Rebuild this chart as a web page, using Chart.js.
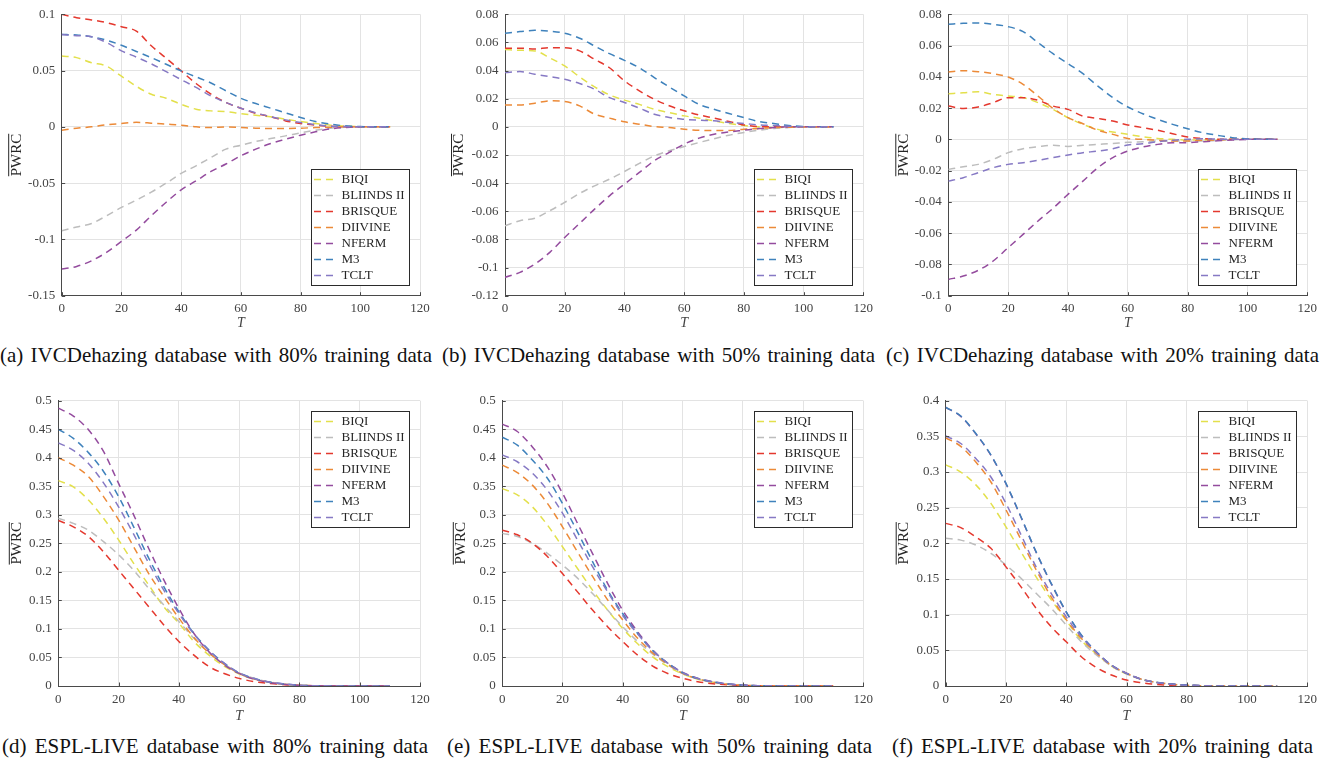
<!DOCTYPE html>
<html>
<head>
<meta charset="utf-8">
<script src="https://cdn.jsdelivr.net/npm/chart.js@4.4.1/dist/chart.umd.min.js"></script>
<style>
  html, body { margin: 0; padding: 0; background: #fff; }
  body { width: 1327px; height: 758px; position: relative; overflow: hidden;
         font-family: "Liberation Serif", Tinos, "Times New Roman", Times, "DejaVu Serif", serif; }
  canvas { position: absolute; }
  .cap { position: absolute; font-size: 21px; line-height: 21px; color: #111;
         font-family: "Liberation Serif", Tinos, "Times New Roman", Times, "DejaVu Serif", serif;
         text-align: justify; text-align-last: justify; }
</style>
</head>
<body>
<canvas id="ca" width="440" height="340" style="left:0;top:0"></canvas>
<canvas id="cb" width="440" height="340" style="left:440px;top:0"></canvas>
<canvas id="cc" width="447" height="340" style="left:880px;top:0"></canvas>
<canvas id="cd" width="440" height="346" style="left:0;top:380px"></canvas>
<canvas id="ce" width="440" height="346" style="left:440px;top:380px"></canvas>
<canvas id="cf" width="447" height="346" style="left:880px;top:380px"></canvas>

<div class="cap" style="left:0;top:345px;width:432px">(a) IVCDehazing database with 80% training data</div>
<div class="cap" style="left:442px;top:345px;width:433px">(b) IVCDehazing database with 50% training data</div>
<div class="cap" style="left:886px;top:345px;width:433px">(c) IVCDehazing database with 20% training data</div>
<div class="cap" style="left:2px;top:736px;width:426px">(d) ESPL-LIVE database with 80% training data</div>
<div class="cap" style="left:447px;top:736px;width:425px">(e) ESPL-LIVE database with 50% training data</div>
<div class="cap" style="left:892px;top:736px;width:421px">(f) ESPL-LIVE database with 20% training data</div>

<script>
"use strict";

const methods = ["BIQI", "BLIINDS II", "BRISQUE", "DIIVINE", "NFERM", "M3", "TCLT"];
const colors = ["#e3e04c", "#bdbdbd", "#e4382e", "#ec8a38", "#944c9e", "#3f82bc", "#8679c4"];
const T = [0, 5, 10, 15, 20, 25, 30, 35, 40, 45, 50, 55, 60, 65, 70, 75, 80, 85, 90, 95, 100, 105, 110];

// (a) IVCDehazing 80%
const biqiA = [0.063,0.0615,0.057,0.054,0.045,0.036,0.029,0.0254,0.020,0.0157,0.0142,0.0136,0.0118,0.0103,0.009,0.0068,0.0047,0.003,0.0015,0.0006,0.0002,0,0];
const bliindsA = [-0.0923,-0.089,-0.0858,-0.079,-0.0716,-0.065,-0.058,-0.050,-0.0414,-0.0346,-0.0272,-0.0198,-0.0163,-0.013,-0.0104,-0.008,-0.0053,-0.003,-0.0012,-0.0003,0,0,0];
const brisqueA = [0.1,0.097,0.095,0.0926,0.089,0.085,0.072,0.061,0.0497,0.0385,0.029,0.0216,0.0166,0.012,0.009,0.0053,0.003,0.0015,0.0006,0.0002,0,0,0];
const diivineA = [-0.003,-0.0012,0,0.0018,0.003,0.004,0.0033,0.0024,0.0015,0,-0.0006,0,-0.0006,-0.0012,-0.0015,-0.0015,-0.0012,-0.0006,-0.0003,0,0,0,0];
const nfermA = [-0.1263,-0.124,-0.119,-0.1115,-0.1018,-0.0917,-0.079,-0.067,-0.056,-0.048,-0.0396,-0.033,-0.0257,-0.0198,-0.0148,-0.011,-0.0074,-0.0044,-0.0018,-0.0006,0,0,0];
const m3A = [0.082,0.0817,0.080,0.077,0.0725,0.067,0.0615,0.0556,0.0497,0.0444,0.039,0.032,0.0254,0.0207,0.0166,0.0124,0.0083,0.0047,0.0024,0.0009,0.0003,0,0];
const tcltA = [0.082,0.081,0.080,0.075,0.0675,0.062,0.056,0.049,0.042,0.035,0.0275,0.0216,0.0166,0.0124,0.009,0.0062,0.0038,0.002,0.0006,0.0003,0,0,0];

// (b) IVCDehazing 50%
const biqiB = [0.055,0.0544,0.054,0.049,0.0433,0.0355,0.0284,0.0227,0.019,0.016,0.0125,0.0102,0.0078,0.0062,0.0043,0.0024,0.001,0,-0.0004,-0.0002,0,0,0];
const bliindsB = [-0.0703,-0.0667,-0.0649,-0.0596,-0.0537,-0.0473,-0.0419,-0.0372,-0.0317,-0.026,-0.0206,-0.017,-0.014,-0.0111,-0.0085,-0.0059,-0.004,-0.0024,-0.0012,-0.0005,0,0,0];
const brisqueB = [0.0559,0.0559,0.0554,0.0563,0.0563,0.054,0.048,0.042,0.0327,0.0256,0.0196,0.015,0.0114,0.0085,0.0062,0.0038,0.0014,0.0002,0,0,0,0,0];
const diivineB = [0.0156,0.0156,0.0168,0.0185,0.018,0.0149,0.009,0.0062,0.0036,0.0019,0.0002,-0.0005,-0.0017,-0.0024,-0.0026,-0.0026,-0.0017,-0.0012,-0.0005,-0.0002,0,0,0];
const nfermB = [-0.107,-0.1034,-0.0975,-0.0892,-0.0786,-0.0686,-0.0585,-0.049,-0.0407,-0.0324,-0.0241,-0.0182,-0.0123,-0.008,-0.0052,-0.0036,-0.0024,-0.0012,-0.0005,0,0,0,0];
const m3B = [0.0665,0.0677,0.0686,0.068,0.0665,0.063,0.0575,0.052,0.0473,0.042,0.035,0.0284,0.022,0.016,0.0125,0.0095,0.0066,0.0038,0.0024,0.001,0.0002,0,0];
const tcltB = [0.0386,0.0393,0.0374,0.0357,0.0338,0.0308,0.0267,0.0208,0.0173,0.0133,0.009,0.0066,0.0054,0.0047,0.0043,0.0031,0.0024,0.0014,0.001,0.0005,0,0,0];

// (c) IVCDehazing 20%
const biqiC = [0.0292,0.0298,0.0305,0.0288,0.0277,0.0267,0.0235,0.0192,0.0139,0.0096,0.0064,0.0047,0.0032,0.0017,0.0006,0,-0.0004,-0.0004,-0.0002,0,0,0,0];
const bliindsC = [-0.0192,-0.0175,-0.016,-0.0128,-0.0085,-0.006,-0.0047,-0.0038,-0.0045,-0.0038,-0.0032,-0.0026,-0.0019,-0.0015,-0.0011,-0.0011,-0.0011,-0.0011,-0.0006,-0.0002,0,0,0];
const brisqueC = [0.0213,0.0198,0.0207,0.0235,0.0267,0.0267,0.025,0.0213,0.0192,0.0149,0.0134,0.0117,0.0092,0.0075,0.0058,0.0036,0.0015,0.0006,0,0,0,0,0];
const diivineC = [0.0431,0.0439,0.0433,0.042,0.0399,0.0352,0.0277,0.0198,0.0139,0.01,0.0058,0.0032,0.0006,0,-0.0006,-0.001,-0.001,-0.0006,-0.0004,0,0,0,0];
const nfermC = [-0.0896,-0.0874,-0.0838,-0.0778,-0.0693,-0.0608,-0.0522,-0.0441,-0.0352,-0.0267,-0.0181,-0.0117,-0.0075,-0.0049,-0.0032,-0.0021,-0.0021,-0.0015,-0.0009,-0.0004,0,0,0];
const m3C = [0.0736,0.0742,0.0745,0.0736,0.0721,0.0689,0.0619,0.0548,0.0484,0.042,0.0341,0.0267,0.0207,0.0164,0.0128,0.0096,0.0068,0.0043,0.0026,0.0011,0.0004,0,0];
const tcltC = [-0.0267,-0.0245,-0.0213,-0.0181,-0.016,-0.0149,-0.0134,-0.0117,-0.01,-0.0085,-0.0075,-0.006,-0.0036,-0.0028,-0.0015,-0.0006,0,0.0004,0.0002,0,0,0,0];

// (d) ESPL-LIVE 80%
const biqiD = [0.36,0.349,0.326,0.294,0.256,0.215,0.177,0.139,0.110,0.078,0.054,0.035,0.021,0.012,0.0065,0.003,0.0012,0.0005,0.0002,0,0,0,0];
const bliindsD = [0.294,0.285,0.273,0.253,0.230,0.203,0.171,0.142,0.113,0.0835,0.058,0.0385,0.023,0.0135,0.007,0.0033,0.0013,0.0005,0.0002,0,0,0,0];
const brisqueD = [0.29,0.279,0.262,0.235,0.203,0.171,0.139,0.107,0.078,0.054,0.034,0.022,0.0134,0.0076,0.0047,0.0023,0.001,0.0004,0.0001,0,0,0,0];
const diivineD = [0.40,0.387,0.367,0.332,0.291,0.244,0.197,0.157,0.119,0.085,0.058,0.038,0.022,0.012,0.0065,0.003,0.0012,0.0005,0.0002,0,0,0,0];
const nfermD = [0.487,0.473,0.449,0.411,0.355,0.30,0.241,0.186,0.136,0.092,0.06,0.037,0.022,0.012,0.006,0.003,0.001,0.0004,0.0001,0,0,0,0];
const m3D = [0.45,0.434,0.409,0.376,0.332,0.279,0.224,0.174,0.130,0.092,0.063,0.040,0.023,0.013,0.007,0.0035,0.0012,0.0005,0.0002,0,0,0,0];
const tcltD = [0.426,0.413,0.390,0.356,0.314,0.266,0.215,0.168,0.127,0.091,0.062,0.040,0.023,0.013,0.007,0.0035,0.0012,0.0005,0.0002,0,0,0,0];

// (e) ESPL-LIVE 50%
const biqiE = [0.346,0.335,0.314,0.282,0.244,0.206,0.168,0.133,0.101,0.074,0.051,0.034,0.021,0.012,0.0065,0.003,0.0012,0.0005,0.0002,0,0,0,0];
const bliindsE = [0.2675,0.262,0.25,0.2325,0.212,0.189,0.162,0.133,0.104,0.078,0.056,0.037,0.022,0.0125,0.0065,0.003,0.0012,0.0005,0.0002,0,0,0,0];
const brisqueE = [0.273,0.265,0.25,0.227,0.197,0.165,0.133,0.104,0.078,0.054,0.035,0.022,0.0134,0.0076,0.004,0.002,0.0008,0.0003,0.0001,0,0,0,0];
const diivineE = [0.387,0.374,0.352,0.32,0.279,0.235,0.192,0.151,0.116,0.0835,0.058,0.038,0.022,0.0125,0.0068,0.0032,0.0013,0.0005,0.0002,0,0,0,0];
const nfermE = [0.459,0.446,0.419,0.384,0.338,0.285,0.232,0.18,0.133,0.095,0.063,0.040,0.024,0.0134,0.0076,0.0035,0.0018,0.0006,0.0002,0,0,0,0];
const m3E = [0.436,0.422,0.396,0.364,0.320,0.270,0.218,0.168,0.127,0.092,0.062,0.040,0.023,0.013,0.0072,0.0034,0.0016,0.0006,0.0002,0,0,0,0];
const tcltE = [0.405,0.393,0.373,0.343,0.303,0.256,0.209,0.165,0.124,0.091,0.062,0.040,0.023,0.013,0.0072,0.0034,0.0016,0.0006,0.0002,0,0,0,0];

// (f) ESPL-LIVE 20%
const biqiF = [0.31,0.30,0.282,0.256,0.223,0.188,0.153,0.121,0.092,0.064,0.045,0.028,0.017,0.0095,0.005,0.0025,0.001,0.0004,0.0001,0,0,0,0];
const bliindsF = [0.207,0.2045,0.1977,0.186,0.1696,0.151,0.130,0.109,0.0855,0.062,0.0435,0.028,0.0168,0.0093,0.005,0.0025,0.001,0.0004,0.0001,0,0,0,0];
const brisqueF = [0.228,0.222,0.209,0.193,0.167,0.139,0.109,0.083,0.062,0.041,0.026,0.0154,0.0084,0.0047,0.0023,0.001,0.0004,0.0001,0,0,0,0,0];
const diivineF = [0.348,0.336,0.314,0.286,0.247,0.205,0.163,0.125,0.093,0.067,0.046,0.029,0.018,0.0095,0.005,0.0025,0.001,0.0004,0.0001,0,0,0,0];
const nfermF = [0.3905,0.378,0.3535,0.3235,0.2835,0.2365,0.1875,0.1435,0.1035,0.0712,0.0478,0.0292,0.0177,0.0092,0.005,0.0027,0.0013,0.0005,0.0001,0,0,0,0];
const m3F = [0.3907,0.3785,0.354,0.324,0.284,0.237,0.188,0.144,0.104,0.0715,0.048,0.0294,0.0178,0.0093,0.0051,0.0028,0.0014,0.0005,0.0001,0,0,0,0];
const tcltF = [0.3505,0.340,0.319,0.293,0.256,0.212,0.167,0.130,0.097,0.069,0.047,0.029,0.018,0.0095,0.005,0.0025,0.001,0.0004,0.0001,0,0,0,0];

const FONT = '"Liberation Serif", Tinos, "Times New Roman", Times, "DejaVu Serif", serif';
const TEXT = "#444";
const AXIS = "#4a4a4a";
Chart.defaults.font.family = FONT;

// small inward tick marks on both axes
const innerTicks = {
  id: "innerTicks",
  afterDatasetsDraw(chart) {
    const { ctx, chartArea: a, scales: { x, y } } = chart;
    ctx.save();
    ctx.strokeStyle = AXIS;
    ctx.lineWidth = 1;
    ctx.beginPath();
    x.ticks.forEach(t => {
      const px = Math.round(x.getPixelForValue(t.value)) + 0.5;
      ctx.moveTo(px, a.bottom);
      ctx.lineTo(px, a.bottom - 3.5);
    });
    y.ticks.forEach(t => {
      const py = Math.round(y.getPixelForValue(t.value)) + 0.5;
      ctx.moveTo(a.left, py);
      ctx.lineTo(a.left + 3.5, py);
    });
    ctx.stroke();
    ctx.restore();
  }
};

// legend box drawn inside the plot, like the matlab one
const boxLegend = {
  id: "boxLegend",
  afterDraw(chart, args, opts) {
    const { ctx, chartArea: a } = chart;
    const w = 98, h = 116;
    const x = Math.round(a.right - 11 - w);
    const y = Math.round(opts.corner === "top" ? a.top + 10 : a.bottom - 10.5 - h);
    ctx.save();
    ctx.fillStyle = "#fff";
    ctx.fillRect(x, y, w, h);
    ctx.strokeStyle = "#2b2b2b";
    ctx.lineWidth = 1;
    ctx.strokeRect(x + 0.5, y + 0.5, w, h);
    ctx.font = "13px " + FONT;
    ctx.textBaseline = "middle";
    chart.data.datasets.forEach((ds, i) => {
      const yy = y + 10.5 + 16 * i;
      ctx.strokeStyle = ds.borderColor;
      ctx.lineWidth = 1.5;
      ctx.setLineDash([7, 5]);
      ctx.beginPath();
      ctx.moveTo(x + 3, yy);
      ctx.lineTo(x + 22, yy);
      ctx.stroke();
      ctx.setLineDash([]);
      ctx.fillStyle = "#262626";
      ctx.fillText(ds.label, x + 30.5, yy + 0.5);
    });
    ctx.restore();
  }
};

// overlined PWRC label on the y axis
const yTitle = {
  id: "yTitle",
  afterDraw(chart, args, opts) {
    const { ctx, chartArea: a } = chart;
    ctx.save();
    ctx.translate(a.left - opts.gap, (a.top + a.bottom) / 2);
    ctx.rotate(-Math.PI / 2);
    ctx.font = "15px " + FONT;
    ctx.fillStyle = "#262626";
    ctx.textAlign = "center";
    ctx.textBaseline = "middle";
    ctx.fillText("PWRC", 0, 0);
    const tw = ctx.measureText("PWRC").width;
    ctx.strokeStyle = "#262626";
    ctx.lineWidth = 1;
    ctx.beginPath();
    ctx.moveTo(-tw / 2, -8);
    ctx.lineTo(tw / 2, -8);
    ctx.stroke();
    ctx.restore();
  }
};

const panels = [
  { id: "ca", left: 0,   top: 0,   w: 440, h: 340, area: [61.7, 13.3, 420, 295.7], yMin: -0.15, yMax: 0.1,  yStep: 0.05, xGap: 27.6, tGap: 45, corner: "bottom",
    series: [biqiA, bliindsA, brisqueA, diivineA, nfermA, m3A, tcltA] },
  { id: "cb", left: 440, top: 0,   w: 440, h: 340, area: [505, 13.3, 863.3, 295.7], yMin: -0.12, yMax: 0.08, yStep: 0.02, xGap: 27.6, tGap: 45.5, corner: "bottom",
    series: [biqiB, bliindsB, brisqueB, diivineB, nfermB, m3B, tcltB] },
  { id: "cc", left: 880, top: 0,   w: 447, h: 340, area: [948.3, 13.3, 1307.3, 295.7], yMin: -0.1, yMax: 0.08, yStep: 0.02, xGap: 27.6, tGap: 44.5, corner: "bottom",
    series: [biqiC, bliindsC, brisqueC, diivineC, nfermC, m3C, tcltC] },
  { id: "cd", left: 0,   top: 380, w: 440, h: 346, area: [58.3, 400.7, 420, 686], yMin: 0, yMax: 0.5, yStep: 0.05, xGap: 30.7, tGap: 41, corner: "top",
    series: [biqiD, bliindsD, brisqueD, diivineD, nfermD, m3D, tcltD] },
  { id: "ce", left: 440, top: 380, w: 440, h: 346, area: [502.3, 400.7, 863.3, 686], yMin: 0, yMax: 0.5, yStep: 0.05, xGap: 30.7, tGap: 41, corner: "top",
    series: [biqiE, bliindsE, brisqueE, diivineE, nfermE, m3E, tcltE] },
  { id: "cf", left: 880, top: 380, w: 447, h: 346, area: [945.7, 400.7, 1307.3, 686], yMin: 0, yMax: 0.4, yStep: 0.05, xGap: 30.7, tGap: 41.5, corner: "top",
    series: [biqiF, bliindsF, brisqueF, diivineF, nfermF, m3F, tcltF] }
];

panels.forEach(p => {
  const yW = p.area[0] - p.left;
  const xH = p.xGap + 8.4;
  const ctx = document.getElementById(p.id).getContext("2d");
  new Chart(ctx, {
    type: "line",
    data: {
      datasets: methods.map((m, i) => ({
        label: m,
        data: T.map((t, k) => ({ x: t, y: p.series[i][k] })),
        borderColor: colors[i],
        borderWidth: 1.5,
        borderDash: [7, 5],
        pointRadius: 0,
        fill: false,
        cubicInterpolationMode: "monotone",
        order: methods.length - i
      }))
    },
    options: {
      responsive: false,
      animation: false,
      devicePixelRatio: 1,
      layout: {
        padding: {
          left: 0,
          top: p.area[1] - p.top,
          right: p.left + p.w - p.area[2],
          bottom: p.top + p.h - p.area[3] - xH
        }
      },
      plugins: {
        legend: { display: false },
        tooltip: { enabled: false },
        boxLegend: { corner: p.corner },
        yTitle: { gap: p.tGap }
      },
      scales: {
        x: {
          type: "linear",
          min: 0,
          max: 120,
          ticks: { stepSize: 20, padding: 5.5, color: TEXT, font: { family: FONT, size: 13 } },
          grid: { color: "#e3e3e3", drawTicks: false },
          border: { color: AXIS, width: 1 },
          title: { display: true, text: "T", color: TEXT, padding: 0, font: { family: FONT, size: 14, style: "italic" } },
          afterFit(s) { s.height = xH; }
        },
        y: {
          min: p.yMin,
          max: p.yMax,
          ticks: {
            stepSize: p.yStep,
            padding: 6.5,
            color: TEXT,
            font: { family: FONT, size: 13 },
            callback: v => String(Number(v.toFixed(4)))
          },
          grid: { color: "#e3e3e3", drawTicks: false },
          border: { color: AXIS, width: 1 },
          afterFit(s) { s.width = yW; }
        }
      }
    },
    plugins: [innerTicks, boxLegend, yTitle]
  });
});
</script>
</body>
</html>
